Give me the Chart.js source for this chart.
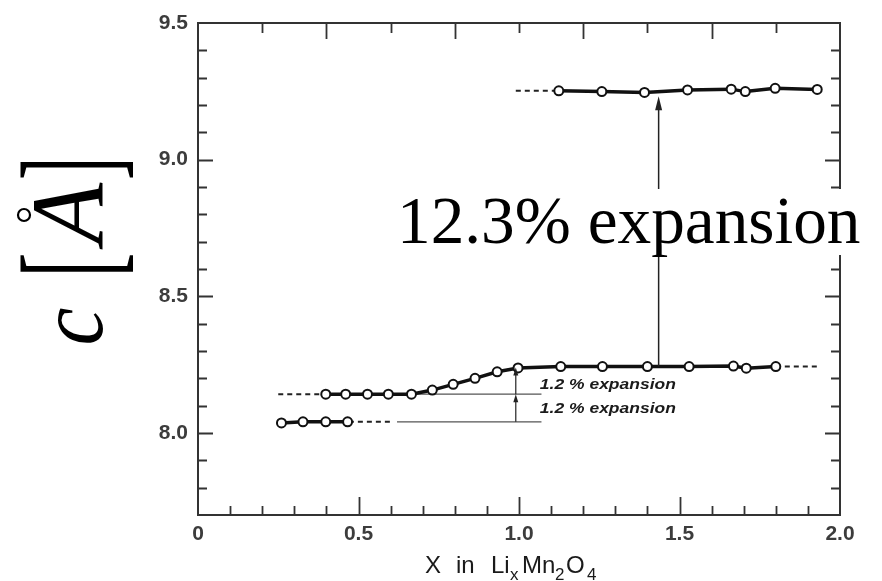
<!DOCTYPE html>
<html>
<head>
<meta charset="utf-8">
<script src="https://cdn.jsdelivr.net/npm/chart.js@4/dist/chart.umd.min.js"></script>
<style>
html,body{margin:0;padding:0;background:#fff;}
#wrap{width:882px;height:581px;position:relative;}
</style>
</head>
<body>
<div id="wrap"><canvas id="c" width="882" height="581"></canvas></div>
<script>
// ---- data ----
const xTickValues = [0, 0.5, 1.0, 1.5, 2.0];
const yTickValues = [8.0, 8.5, 9.0, 9.5];

// phase 1 (lowest, c ≈ 8.04)
const xA = [0.26, 0.327, 0.398, 0.466];
const yA = [8.037, 8.041, 8.041, 8.041];

// phase 2 (c ≈ 8.14 rising to 8.24)
const xB = [0.398, 0.46, 0.528, 0.593, 0.665, 0.73, 0.795, 0.863, 0.932, 0.997, 1.13, 1.26, 1.40, 1.53, 1.668, 1.708, 1.80];
const yB = [8.142, 8.142, 8.142, 8.142, 8.142, 8.157, 8.178, 8.200, 8.224, 8.238, 8.243, 8.243, 8.243, 8.243, 8.245, 8.237, 8.243];

// phase 3 (c ≈ 9.25)
const xC = [1.124, 1.258, 1.391, 1.525, 1.661, 1.705, 1.798, 1.929];
const yC = [9.252, 9.249, 9.246, 9.255, 9.258, 9.249, 9.261, 9.257];

// dashed extensions
const dashAx = [0.47, 0.60];  const dashAy = [8.041, 8.041];
const dashB1x = [0.25, 0.39]; const dashB1y = [8.142, 8.142];
const dashB2x = [1.80, 1.94]; const dashB2y = [8.243, 8.243];
const dashCx = [0.99, 1.12];  const dashCy = [9.252, 9.252];

// thin reference lines
const refAx = [0.62, 1.07];  const refAy = [8.041, 8.041];
const refBx = [0.665, 1.07]; const refBy = [8.142, 8.142];

// arrows: x, from, to
const arrowX = [0.99, 0.99, 1.435];
const arrowFrom = [8.041, 8.142, 8.243];
const arrowTo = [8.142, 8.240, 9.232];

// small annotation labels
const smallLabels = ['1.2 % expansion', '1.2 % expansion'];
const smallLabelY = [8.175, 8.088];
const smallLabelX = [1.065, 1.065];

const bigLabel = '12.3% expansion';

function pts(xs, ys){ return xs.map((x,i)=>({x:x, y:ys[i]})); }

const thick = {
  showLine:true, borderColor:'#111', borderWidth:3.5,
  pointRadius:4.5, pointBorderWidth:2, pointBackgroundColor:'#fff', pointBorderColor:'#111'
};
const dashed = { showLine:true, borderColor:'#222', borderWidth:2, borderDash:[5,4], pointRadius:0 };
const thin = { showLine:true, borderColor:'#555', borderWidth:1.2, pointRadius:0 };

const datasets = [
  Object.assign({data: pts(xA,yA)}, thick),
  Object.assign({data: pts(xB,yB)}, thick),
  Object.assign({data: pts(xC,yC)}, thick),
  Object.assign({data: pts(dashAx,dashAy)}, dashed),
  Object.assign({data: pts(dashB1x,dashB1y)}, dashed),
  Object.assign({data: pts(dashB2x,dashB2y)}, dashed),
  Object.assign({data: pts(dashCx,dashCy)}, dashed),
  Object.assign({data: pts(refAx,refAy)}, thin),
  Object.assign({data: pts(refBx,refBy)}, thin)
];

const tickFont = {family:'"Liberation Sans", Arial, sans-serif', size:21, weight:'bold'};
const tickColor = '#3c3c3c';

function inkText(ctx, txt, inkLeft, baseY){
  const m = ctx.measureText(txt);
  ctx.fillText(txt, inkLeft + m.actualBoundingBoxLeft, baseY);
  return m;
}
// draw text so its ink fills the box [x0,x1]x[y0,y1]
function fitInk(ctx, txt, x0, x1, y0, y1){
  const m = ctx.measureText(txt);
  const w = m.actualBoundingBoxLeft + m.actualBoundingBoxRight;
  const h = m.actualBoundingBoxAscent + m.actualBoundingBoxDescent;
  ctx.save();
  ctx.translate(x0, y0);
  ctx.scale((x1 - x0) / w, (y1 - y0) / h);
  ctx.fillText(txt, m.actualBoundingBoxLeft, m.actualBoundingBoxAscent);
  ctx.restore();
}

const decor = {
  id:'decor',
  afterDraw(chart){
    const ctx = chart.ctx, a = chart.chartArea;
    const sx = chart.scales.x, sy = chart.scales.y;
    ctx.save();
    // frame
    ctx.strokeStyle = '#333'; ctx.lineWidth = 2;
    ctx.strokeRect(a.left, a.top, a.right - a.left, a.bottom - a.top);
    ctx.lineWidth = 1.8;
    ctx.beginPath();
    for (let k = 78; k <= 94; k++){
      const v = k/10, y = Math.round(sy.getPixelForValue(v)) + 0.5;
      const major = (k % 5 === 0);
      ctx.moveTo(a.left, y); ctx.lineTo(a.left + (major ? 15 : 9), y);
      ctx.moveTo(a.right, y); ctx.lineTo(a.right - (major ? 15 : 9), y);
    }
    for (let k = 1; k <= 19; k++){
      const x = Math.round(sx.getPixelForValue(k/10)) + 0.5;
      const major = (k % 5 === 0);
      ctx.moveTo(x, a.bottom); ctx.lineTo(x, a.bottom - (major ? 18 : 9));
    }
    for (let k = 1; k <= 9; k++){
      const x = Math.round(sx.getPixelForValue(k/5)) + 0.5;
      const long = (k % 2 === 0);
      ctx.moveTo(x, a.top); ctx.lineTo(x, a.top + (long ? 16 : 10));
    }
    ctx.stroke();

    // arrows
    ctx.strokeStyle = '#222'; ctx.fillStyle = '#222';
    for (let i = 0; i < arrowX.length; i++){
      const x = sx.getPixelForValue(arrowX[i]);
      const y0 = sy.getPixelForValue(arrowFrom[i]);
      const y1 = sy.getPixelForValue(arrowTo[i]);
      const big = (arrowTo[i] - arrowFrom[i]) > 0.5;
      const hl = big ? 14 : 8, hw = big ? 3.5 : 2.5;
      ctx.lineWidth = big ? 1.5 : 1.2;
      ctx.beginPath(); ctx.moveTo(x, y0); ctx.lineTo(x, y1 + hl*0.6); ctx.stroke();
      ctx.beginPath(); ctx.moveTo(x, y1); ctx.lineTo(x - hw, y1 + hl); ctx.lineTo(x + hw, y1 + hl); ctx.closePath(); ctx.fill();
    }

    // small labels
    ctx.fillStyle = '#1a1a1a';
    ctx.font = 'italic bold 14px "Liberation Sans", Arial, sans-serif';
    ctx.textBaseline = 'middle';
    for (let i = 0; i < smallLabels.length; i++){
      const x = sx.getPixelForValue(smallLabelX[i]);
      const y = sy.getPixelForValue(smallLabelY[i]);
      const w = ctx.measureText(smallLabels[i]).width;
      ctx.save(); ctx.translate(x, y); ctx.scale(136 / w, 1);
      ctx.fillText(smallLabels[i], 0, 0); ctx.restore();
    }

    // big label with white box
    ctx.textBaseline = 'alphabetic';
    ctx.font = '60px "Liberation Serif", "Times New Roman", serif';
    let m = ctx.measureText(bigLabel);
    const inkW = m.actualBoundingBoxLeft + m.actualBoundingBoxRight;
    const fs = 60 * 458 / inkW;
    ctx.font = fs.toFixed(1) + 'px "Liberation Serif", "Times New Roman", serif';
    ctx.fillStyle = '#fff';
    ctx.fillRect(394, 189, 482, 66);
    ctx.fillStyle = '#000';
    inkText(ctx, bigLabel, 402, 243);

    // y axis title  c [Å]
    ctx.save();
    ctx.translate(103, 345);
    ctx.rotate(-Math.PI/2);
    ctx.fillStyle = '#000';
    ctx.textBaseline = 'alphabetic';
    ctx.font = 'italic 100px "Liberation Serif", "Times New Roman", serif';
    fitInk(ctx, 'c', 2, 37, -45, 0);
    ctx.font = '100px "Liberation Serif", "Times New Roman", serif';
    fitInk(ctx, '[', 73, 90, -83, 30);
    fitInk(ctx, ']', 167, 183, -83, 30);
    ctx.font = 'italic 100px "Liberation Serif", "Times New Roman", serif';
    fitInk(ctx, 'A', 95, 163, -69, 0);
    ctx.lineWidth = 2.2; ctx.strokeStyle = '#000';
    ctx.beginPath(); ctx.arc(130, -79, 6, 0, Math.PI*2); ctx.stroke();
    ctx.restore();

    // x axis title  X in LixMn2O4
    ctx.fillStyle = '#1a1a1a';
    const bigF = '24px "Liberation Sans", Arial, sans-serif';
    const subF = '17px "Liberation Sans", Arial, sans-serif';
    const bl = 573, sbl = 580;
    ctx.font = bigF;  inkText(ctx, 'X', 425, bl);
    inkText(ctx, 'in', 457, bl);
    inkText(ctx, 'Li', 492, bl);
    ctx.font = subF;  inkText(ctx, 'x', 510, sbl);
    ctx.font = bigF;  inkText(ctx, 'Mn', 523, bl);
    ctx.font = subF;  inkText(ctx, '2', 555, sbl);
    ctx.font = bigF;  inkText(ctx, 'O', 567, bl);
    ctx.font = subF;  inkText(ctx, '4', 587, sbl);
    ctx.restore();
  }
};

new Chart(document.getElementById('c'), {
  type:'scatter',
  data:{ datasets: datasets },
  options:{
    responsive:false, animation:false, events:[],
    layout:{ padding:{ left:0, top:23, right:42, bottom:0 } },
    plugins:{ legend:{display:false}, tooltip:{enabled:false} },
    elements:{ line:{ tension:0 } },
    scales:{
      x:{
        type:'linear', min:0, max:2,
        grid:{display:false, drawTicks:false}, border:{display:false},
        ticks:{ padding:7, font:tickFont, color:tickColor,
          callback:(v)=> v === 0 ? '0' : Number(v).toFixed(1) },
        afterBuildTicks:(s)=>{ s.ticks = xTickValues.map(v=>({value:v})); },
        afterFit:(s)=>{ s.height = 66; }
      },
      y:{
        type:'linear', min:7.7, max:9.5,
        grid:{display:false, drawTicks:false}, border:{display:false},
        ticks:{ padding:10, font:tickFont, color:tickColor,
          callback:(v)=> Number(v).toFixed(1) },
        afterBuildTicks:(s)=>{ s.ticks = yTickValues.map(v=>({value:v})); },
        afterFit:(s)=>{ s.width = 198; }
      }
    }
  },
  plugins:[decor]
});
</script>
</body>
</html>
